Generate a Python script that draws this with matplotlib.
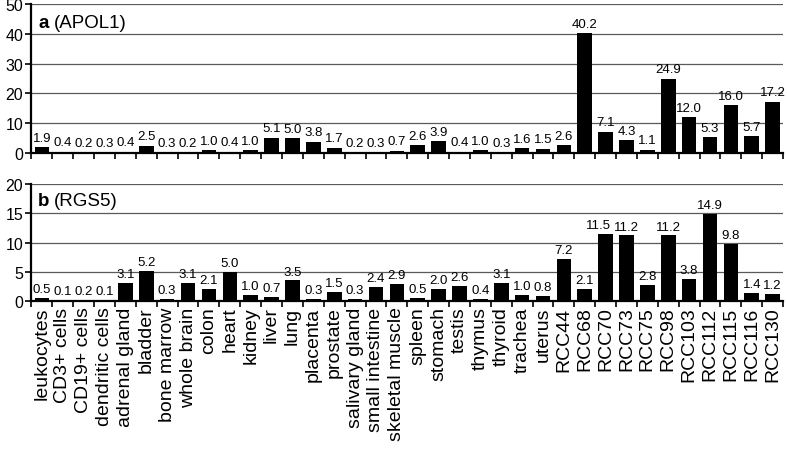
import matplotlib
matplotlib.use("Agg")
import matplotlib.pyplot as plt
import numpy as np

plt.rcParams['font.family'] = ['Liberation Sans', 'DejaVu Sans']

categories = ["leukocytes", "CD3+ cells", "CD19+ cells", "dendritic cells", "adrenal gland",
              "bladder", "bone marrow", "whole brain", "colon", "heart", "kidney", "liver",
              "lung", "placenta", "prostate", "salivary gland", "small intestine",
              "skeletal muscle", "spleen", "stomach", "testis", "thymus", "thyroid",
              "trachea", "uterus", "RCC44", "RCC68", "RCC70", "RCC73", "RCC75", "RCC98",
              "RCC103", "RCC112", "RCC115", "RCC116", "RCC130"]

apol1 = [1.9, 0.4, 0.2, 0.3, 0.4, 2.5, 0.3, 0.2, 1.0, 0.4, 1.0, 5.1, 5.0, 3.8, 1.7, 0.2,
         0.3, 0.7, 2.6, 3.9, 0.4, 1.0, 0.3, 1.6, 1.5, 2.6, 40.2, 7.1, 4.3, 1.1, 24.9, 12.0,
         5.3, 16.0, 5.7, 17.2]

rgs5 = [0.5, 0.1, 0.2, 0.1, 3.1, 5.2, 0.3, 3.1, 2.1, 5.0, 1.0, 0.7, 3.5, 0.3, 1.5, 0.3,
        2.4, 2.9, 0.5, 2.0, 2.6, 0.4, 3.1, 1.0, 0.8, 7.2, 2.1, 11.5, 11.2, 2.8, 11.2, 3.8,
        14.9, 9.8, 1.4, 1.2]

apol1_ticks = [0, 10, 20, 30, 40, 50]
rgs5_ticks = [0, 5, 10, 15, 20]

# label nudges (in category units) to avoid overlapping value labels
rgs5_nudge = {"RCC70": -0.33}

fig = plt.figure(figsize=(7.87, 4.56), dpi=100)
ax1 = fig.add_axes([0.040, 0.662, 0.955, 0.327])
ax2 = fig.add_axes([0.040, 0.338, 0.955, 0.256])

x = np.arange(len(categories))

def draw(ax, vals, ticks, bold, name, off, nudge):
    ax.bar(x, vals, width=0.7, color='black', zorder=3)
    ax.set_xlim(-0.5, len(categories) - 0.5)
    ax.set_ylim(ticks[0], ticks[-1])
    ax.set_yticks(ticks)
    ax.set_yticklabels([str(t) for t in ticks], fontsize=11.5)
    for t in ticks[1:]:
        ax.axhline(t, color='#5a5a5a', lw=0.9, zorder=1)
    for xi, v, c in zip(x, vals, categories):
        ax.text(xi + nudge.get(c, 0.0), v + off, f"{v:.1f}", ha='center', va='bottom',
                fontsize=9.5, zorder=4)
    for s in ['top', 'right']:
        ax.spines[s].set_visible(False)
    ax.spines['left'].set_linewidth(1.6)
    ax.spines['bottom'].set_linewidth(1.6)
    ax.tick_params(axis='y', direction='out', length=4, width=1.2, pad=2)
    ax.set_xticks(np.arange(len(categories) + 1) - 0.5, minor=True)
    ax.tick_params(axis='x', which='minor', direction='out', length=4, width=1.2)
    ax.tick_params(axis='x', which='major', length=0)
    ax.text(0.009, 0.93, bold, transform=ax.transAxes, fontsize=13.5, fontweight='bold',
            va='top', ha='left')
    ax.text(0.009 + 0.021, 0.93, name, transform=ax.transAxes, fontsize=13.5,
            va='top', ha='left')

draw(ax1, apol1, apol1_ticks, 'a', '(APOL1)', 1.2, {})
draw(ax2, rgs5, rgs5_ticks, 'b', '(RGS5)', 0.5, rgs5_nudge)

ax1.set_xticks(x)
ax1.set_xticklabels([])
ax2.set_xticks(x)
ax2.set_xticklabels(categories, rotation=90, fontsize=14)
ax2.tick_params(axis='x', which='major', pad=4)

fig.savefig("out.png", dpi=100)
